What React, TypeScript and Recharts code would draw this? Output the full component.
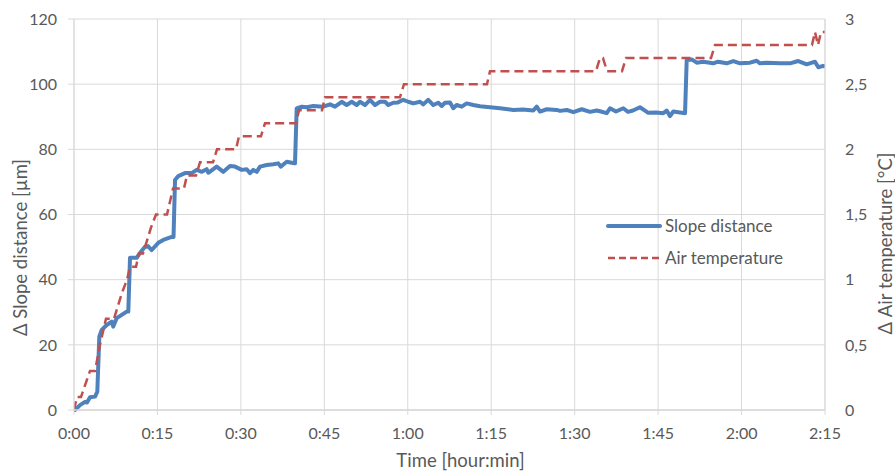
import React from 'react';
import { LineChart, Line, XAxis, YAxis, CartesianGrid, Legend } from 'recharts';

// time in minutes
const slopeTimes = [
  0, 0.18, 1.08, 1.98, 2.34, 2.88, 3.78, 4.19, 4.55, 4.98, 5.88, 6.78, 7.06, 7.68, 9.47, 9.76,
  10.07, 11.27, 11.86, 12.76, 13.3, 13.97, 15.15, 16.05, 17.56, 17.89, 18.16, 18.75, 19.95,
  21.16, 22.06, 22.96, 23.85, 24.14, 25.04, 25.65, 26.84, 28.04, 28.94, 30.15, 31.04, 31.64,
  32.23, 32.84, 33.44, 34.64, 35.83, 36.72, 37.16, 38.24, 39.13, 39.73, 40.03, 40.93, 41.83,
  43.02, 44.81, 46.02, 46.92, 48.12, 49.02, 49.92, 50.82, 51.41, 52.31, 53.21, 54.11, 55.01,
  55.91, 56.5, 57.4, 58.24, 59.19, 60.09, 60.99, 62.2, 62.79, 63.69, 64.59, 65.49, 66.1, 66.69,
  67.59, 68.18, 68.79, 69.69, 70.59, 71.78, 72.98, 74.78, 76.58, 78.97, 80.71, 82.57, 83.18,
  83.77, 84.98, 86.77, 87.37, 88.57, 89.76, 91.26, 92.76, 93.96, 94.55, 95.76, 96.35, 97.43,
  98.74, 99.59, 100.49, 101.74, 102.64, 103.24, 104.62, 105.93, 106.54, 107.14, 107.73, 108.94,
  109.84, 110.14, 111.04, 111.94, 113.07, 114.92, 115.77, 117.33, 118.52, 119.72, 121.52,
  122.72, 123.31, 124.52, 126.91, 128.71, 130.2, 131.71, 133.2, 133.8, 134.69, 135,
];
const slopeValues = [
  0, 0, 1.5, 2.5, 2.3, 3.9, 4.1, 5.6, 22.5, 24.6, 26.1, 27.1, 25.6, 28.2, 30.2, 30.2,
  46.7, 46.7, 48.2, 50.1, 50.3, 49.1, 51.3, 52.2, 53.1, 53.1, 70.6, 71.8, 72.7,
  72.7, 73.7, 73.1, 73.9, 72.8, 73.9, 74.7, 73.1, 74.9, 74.7, 73.7, 73.9, 72.7,
  73.7, 73.1, 74.7, 75.2, 75.4, 75.7, 74.7, 76.2, 75.9, 75.7, 92.6, 93.1, 92.9,
  93.3, 93.1, 93.8, 93.1, 94.6, 93.6, 94.6, 93.6, 94.6, 93.6, 95.2, 93.6, 94.6,
  94.6, 93.6, 94.3, 94.4, 95.2, 94.6, 94.1, 94.6, 93.8, 95.2, 93.6, 94.3, 93.3, 94.3,
  94.4, 92.6, 93.6, 93.1, 94.1, 93.6, 93.2, 92.9, 92.6, 92.1, 92.2, 91.9, 93.1,
  91.6, 92.3, 92.1, 91.8, 92.1, 91.4, 92.3, 91.5, 91.9, 91.7, 91.1, 92.6, 91.6,
  92.6, 91.5, 91.9, 92.9, 91.9, 91.2, 91.3, 91.1, 91.9, 90.2, 91.6, 91.3,
  91.1, 107.4, 107.6, 106.6, 106.9, 106.4, 106.9, 106.4, 107.1, 106.4, 106.6,
  107.2, 106.4, 106.6, 106.4, 106.4, 107.1, 106.1, 106.9, 105.2, 105.6, 105.4,
];

const tempTimes = [
  0, 0.54, 1.26, 2.88, 3.78, 4.67, 5.75, 7.19, 8.63, 9.53, 10.07, 11.15, 11.68, 12.4, 13.12,
  13.84, 14.74, 16.72, 17.8, 19.77, 20.31, 21.93, 22.65, 24.99, 25.71, 29.12, 29.66, 33.61,
  34.33, 39.91, 40.45, 44.58, 45.12, 58.6, 59.32, 74.24, 74.78, 93.83, 94.55, 95.09, 95.81,
  98.51, 99.23, 114.51, 115.23, 132.66, 133.2, 133.74, 134.28, 135,
];
const tempValues = [
  0, 0.1, 0.1, 0.3, 0.3, 0.5, 0.7, 0.7, 0.9, 1.0, 1.1, 1.1, 1.2, 1.2, 1.3,
  1.4, 1.5, 1.5, 1.7, 1.7, 1.8, 1.8, 1.9, 1.9, 2.0, 2.0, 2.1, 2.1,
  2.2, 2.2, 2.3, 2.3, 2.4, 2.4, 2.5, 2.5, 2.6, 2.6, 2.7, 2.7, 2.6,
  2.6, 2.7, 2.7, 2.8, 2.8, 2.9, 2.8, 2.9, 2.9,
];

const xTicks = [0, 15, 30, 45, 60, 75, 90, 105, 120, 135];
const xTickLabels = ['0:00', '0:15', '0:30', '0:45', '1:00', '1:15', '1:30', '1:45', '2:00', '2:15'];
const leftTicks = [0, 20, 40, 60, 80, 100, 120];
const rightTicks = [0, 0.5, 1, 1.5, 2, 2.5, 3];
const rightTickLabels = ['0', '0,5', '1', '1,5', '2', '2,5', '3'];
const legendOrder = ['slope', 'temp'];

const slopeData = slopeTimes.map((t, i) => ({ t, slope: slopeValues[i] }));
const tempData = tempTimes.map((t, i) => ({ t, temp: tempValues[i] }));

const TEXT = '#595959';
const GRID = '#d9d9d9';
const BLUE = '#4f81bd';
const RED = '#c0504d';

const renderLegend = (props: any) => {
  const payload = [...(props.payload || [])].sort(
    (a: any, b: any) => legendOrder.indexOf(a.dataKey) - legendOrder.indexOf(b.dataKey)
  );
  return (
    <svg width={200} height={56} style={{ display: 'block' }}>
      {payload.map((p: any, i: number) => {
        const y = 12 + i * 32;
        const dashed = p.dataKey === 'temp';
        return (
          <g key={i}>
            <line
              x1={2}
              y1={y}
              x2={54}
              y2={y}
              stroke={p.color}
              strokeWidth={dashed ? 2.5 : 4}
              strokeDasharray={dashed ? '7 4' : undefined}
              strokeLinecap={dashed ? 'butt' : 'round'}
            />
            <text x={59} y={y} dy="0.35em" fontSize={17} fill={TEXT} fontFamily="Lato">
              {p.value}
            </text>
          </g>
        );
      })}
    </svg>
  );
};

export default function App() {
  return (
    <div style={{ position: 'absolute', left: 0, top: 0, background: '#fff' }}>
      <LineChart
        width={895}
        height={471}
        margin={{ top: 19, right: 0, bottom: 0, left: 0 }}
        style={{ fontFamily: 'Lato' }}
      >
        <CartesianGrid stroke={GRID} strokeWidth={1} yAxisId="left" />
        <XAxis
          type="number"
          dataKey="t"
          domain={[0, 135]}
          ticks={xTicks}
          interval={0}
          allowDataOverflow
          tickFormatter={(v: number) => xTickLabels[xTicks.indexOf(v)]}
          height={61}
          tickSize={5}
          tickMargin={13}
          axisLine={{ stroke: GRID, strokeWidth: 1.5 }}
          tickLine={{ stroke: GRID }}
          tick={{ fill: TEXT, fontSize: 16 }}
          label={{ value: 'Time [hour:min]', position: 'center', dx: 11, dy: 20, fill: TEXT, fontSize: 18.5 }}
        />
        <YAxis
          yAxisId="left"
          domain={[0, 120]}
          ticks={leftTicks}
          interval={0}
          width={74}
          tickSize={6}
          tickMargin={11}
          axisLine={{ stroke: GRID }}
          tickLine={{ stroke: GRID }}
          tick={{ fill: TEXT, fontSize: 16 }}
          label={{ value: 'Δ Slope distance [µm]', angle: -90, position: 'center', dx: -17, dy: 33, fill: TEXT, fontSize: 18.5 }}
        />
        <YAxis
          yAxisId="right"
          orientation="right"
          domain={[0, 3]}
          ticks={rightTicks}
          interval={0}
          width={70}
          tickSize={0}
          tickMargin={20}
          axisLine={{ stroke: GRID }}
          tickLine={false}
          tickFormatter={(v: number) => rightTickLabels[rightTicks.indexOf(v)]}
          tick={{ fill: TEXT, fontSize: 16 }}
          label={{ value: 'Δ Air temperature [°C]', angle: -90, position: 'center', dx: 25, dy: 29, fill: TEXT, fontSize: 18.5 }}
        />
        <Legend
          layout="vertical"
          align="center"
          verticalAlign="middle"
          content={renderLegend}
          wrapperStyle={{ position: 'absolute', left: 606, top: 214, width: 200, height: 56 }}
        />
        <Line
          data={slopeData}
          dataKey="slope"
          name="Slope distance"
          yAxisId="left"
          type="linear"
          stroke={BLUE}
          strokeWidth={4}
          strokeLinejoin="round"
          dot={false}
          activeDot={false}
          isAnimationActive={false}
        />
        <Line
          data={tempData}
          dataKey="temp"
          name="Air temperature"
          yAxisId="right"
          type="linear"
          stroke={RED}
          strokeWidth={2.5}
          strokeDasharray="9 5"
          dot={false}
          activeDot={false}
          isAnimationActive={false}
        />
      </LineChart>
    </div>
  );
}
